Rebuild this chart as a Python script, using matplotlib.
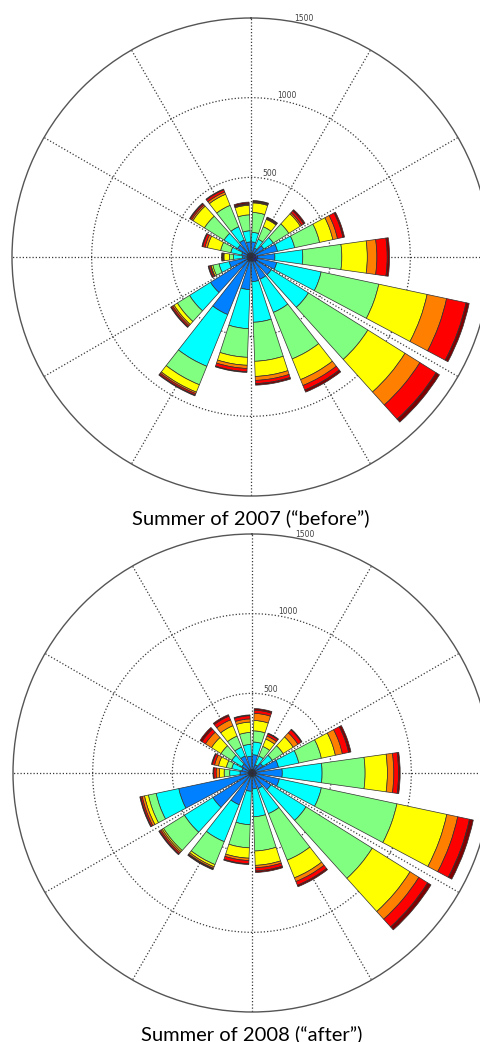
import matplotlib
matplotlib.use('Agg')
import matplotlib.pyplot as plt
import numpy as np

# direction bins, degrees clockwise from north (bin centres)
directions = np.arange(10, 360, 20)

# jet(8) colours, lowest speed class first
speed_colors = ['#0000ff', '#0080ff', '#00ffff', '#80ff80',
                '#ffff00', '#ff8000', '#ff0000', '#800000']

# summer 2007, counts per speed class (18 directions: 10, 30, ..., 350)
s1_2007 = [25, 25, 25, 30, 40, 40, 40, 30, 25, 25, 30, 25, 25, 20, 25, 25, 25, 25]
s2_2007 = [70, 35, 70, 140, 110, 125, 110, 120, 130, 180, 360, 275, 115, 35, 35, 75, 90, 70]
s3_2007 = [60, 60, 70, 110, 175, 285, 275, 225, 255, 245, 350, 155, 65, 55, 70, 100, 90, 70]
s4_2007 = [125, 85, 115, 160, 245, 370, 440, 315, 245, 180, 125, 90, 40, 25, 65, 145, 145, 100]
s5_2007 = [60, 50, 85, 85, 160, 310, 275, 140, 95, 50, 50, 25, 10, 35, 85, 85, 75, 60]
s6_2007 = [5, 5, 10, 30, 60, 125, 110, 40, 25, 20, 10, 10, 5, 5, 15, 10, 15, 5]
s7_2007 = [5, 5, 15, 35, 65, 125, 120, 30, 20, 20, 10, 10, 10, 5, 15, 10, 15, 5]
s8_2007 = [5, 5, 10, 10, 15, 20, 25, 15, 10, 5, 5, 5, 5, 5, 5, 5, 5, 10]

# summer 2008
s1_2008 = [20, 20, 20, 25, 25, 25, 25, 20, 20, 20, 20, 20, 20, 20, 20, 20, 20, 20]
s2_2008 = [95, 35, 60, 145, 165, 150, 115, 85, 80, 95, 195, 270, 450, 55, 45, 55, 95, 85]
s3_2008 = [80, 60, 70, 130, 250, 270, 260, 170, 175, 210, 250, 210, 145, 65, 65, 75, 60, 75]
s4_2008 = [70, 65, 80, 145, 270, 485, 490, 315, 215, 145, 155, 155, 50, 35, 35, 80, 75, 75]
s5_2008 = [65, 50, 75, 90, 140, 320, 280, 120, 90, 65, 15, 10, 25, 30, 50, 70, 70, 65]
s6_2008 = [45, 20, 35, 45, 40, 70, 65, 25, 15, 15, 10, 10, 15, 20, 25, 45, 40, 20]
s7_2008 = [20, 15, 25, 40, 30, 75, 65, 25, 20, 20, 5, 10, 10, 15, 15, 25, 25, 20]
s8_2008 = [10, 5, 5, 15, 10, 25, 25, 10, 10, 5, 5, 5, 5, 5, 5, 15, 10, 5]

ring_ticks = [500, 1000, 1500]

W, H = 481, 1042
fig = plt.figure(figsize=(W / 100, H / 100), dpi=100)


def rose(cx, cy, radius, classes, title, title_y):
    ax = fig.add_axes([(cx - radius) / W, 1 - (cy + radius) / H,
                       2 * radius / W, 2 * radius / H], projection='polar')
    ax.set_theta_zero_location('N')
    ax.set_theta_direction(-1)
    theta = np.deg2rad(directions)
    bottom = np.zeros(len(directions))
    for vals, col in zip(classes, speed_colors):
        vals = np.array(vals, dtype=float)
        ax.bar(theta, vals, width=np.deg2rad(16), bottom=bottom, color=col,
               edgecolor='#303030', linewidth=0.5, zorder=2)
        bottom += vals
    ax.set_ylim(0, ring_ticks[-1])
    ax.set_rticks(ring_ticks[:-1])
    ax.set_yticklabels([])
    ax.set_thetagrids(range(0, 360, 30), labels=[])
    ax.grid(True, color='#3a3a3a', linestyle=(0, (1, 1.6)), linewidth=0.9)
    ax.set_axisbelow(True)
    ax.spines['polar'].set_color('#555555')
    ax.spines['polar'].set_linewidth(1.0)
    for r in ring_ticks:
        ax.text(np.deg2rad(12.5), r + 35, str(r), fontsize=5.5, color='#404040',
                ha='center', va='center', zorder=3)
    fig.text(cx / W, 1 - title_y / H, title, fontsize=14.5, family=['Lato', 'DejaVu Sans'],
             ha='center', va='center', color='black')
    return ax


rose(251, 257, 239,
     [s1_2007, s2_2007, s3_2007, s4_2007, s5_2007, s6_2007, s7_2007, s8_2007],
     'Summer of 2007 (\u201cbefore\u201d)', 518)
rose(252, 773, 239,
     [s1_2008, s2_2008, s3_2008, s4_2008, s5_2008, s6_2008, s7_2008, s8_2008],
     'Summer of 2008 (\u201cafter\u201d)', 1034)

fig.savefig('out.png', dpi=100)
